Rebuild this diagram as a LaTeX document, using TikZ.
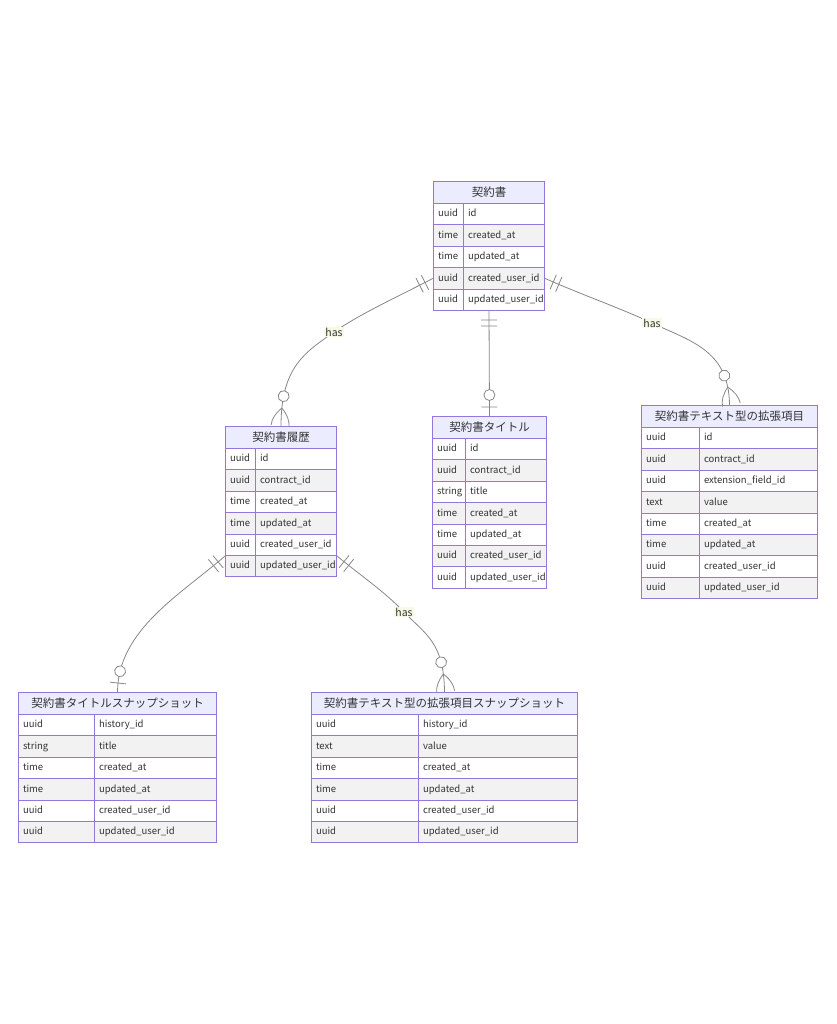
\documentclass[tikz,border=0pt]{standalone}
\usepackage{fontspec}
\setmainfont{Noto Sans CJK JP}
\usetikzlibrary{decorations.markings,calc}
\definecolor{ercol}{RGB}{150,118,220}
\definecolor{hdrfill}{RGB}{236,236,255}
\definecolor{cellgray}{RGB}{242,242,242}
\definecolor{relcol}{RGB}{135,135,135}
\definecolor{lblbg}{RGB}{245,250,228}
\definecolor{txt}{RGB}{51,51,51}
\newcommand\erbar{\draw[relcol,line width=0.8pt] (0,-8pt) -- (0,8pt);}
\newcommand\ercirc{\draw[relcol,line width=0.8pt,fill=white] (0,0) circle[radius=5.5pt];}
\newcommand\ercrow{\draw[relcol,line width=0.8pt] (0,0) .. controls (6pt,-6pt) and (12pt,-9pt) .. (18pt,-9pt) (0,0) .. controls (6pt,6pt) and (12pt,9pt) .. (18pt,9pt);}
\tikzset{
  er/.style={draw=ercol, line width=1pt, text=txt},
  hdr/.style={er, fill=hdrfill, minimum height=22pt, inner sep=0pt, anchor=north west, font=\fontsize{11.5}{13}\selectfont},
  cell/.style={er, minimum height=21.4pt, inner xsep=4.5pt, inner ysep=0pt, align=left, anchor=north west, font=\fontsize{9.5}{11}\selectfont, text height=7.5pt, text depth=2pt},
  rel/.style={draw=relcol, line width=0.8pt},
  lbl/.style={fill=lblbg, inner sep=1pt, text=txt, font=\fontsize{10.5}{12}\selectfont},
  onezm/.style={rel, postaction={decorate, decoration={markings,
      mark=at position 9pt with {\erbar}, mark=at position 15pt with {\erbar},
      mark=at position -30pt with {\ercirc}, mark=at position -18pt with {\ercrow}}}},
  onezo/.style={rel, postaction={decorate, decoration={markings,
      mark=at position 9pt with {\erbar}, mark=at position 15pt with {\erbar},
      mark=at position -21pt with {\ercirc}, mark=at position -9pt with {\erbar}}}}
}
% #1 name, #2 x, #3 top y, #4 type column width, #5 total width, #6 title, #7 rows
\newcommand\erent[7]{%
  \node[hdr, minimum width=#5pt] (#1) at (#2,#3) {#6};
  \foreach \ty/\nm [count=\i] in {#7}{%
    \pgfmathsetmacro\ry{#3+22+(\i-1)*21.4}%
    \pgfmathsetmacro\twa{#4-9}%
    \pgfmathsetmacro\twb{#5-#4-9}%
    \ifodd\i\relax\def\erfill{white}\else\def\erfill{cellgray}\fi
    \node[cell, fill=\erfill, text width=\twa pt] (#1-t\i) at (#2,\ry) {\ty};
    \node[cell, fill=\erfill, text width=\twb pt] (#1-n\i) at (#2+#4,\ry) {\nm};
  }%
}
\begin{document}
\begin{tikzpicture}[x=1pt,y=-1pt]
\useasboundingbox (0,0) rectangle (836,1024);
\fill[white] (0,0) rectangle (836,1024);

\erent{C}{433}{181}{30}{111}{契約書}{uuid/id, time/created\_at, time/updated\_at, uuid/created\_user\_id, uuid/updated\_user\_id}
\erent{H}{225}{426}{30}{111}{契約書履歴}{uuid/id, uuid/contract\_id, time/created\_at, time/updated\_at, uuid/created\_user\_id, uuid/updated\_user\_id}
\erent{T}{432}{416}{33}{114}{契約書タイトル}{uuid/id, uuid/contract\_id, string/title, time/created\_at, time/updated\_at, uuid/created\_user\_id, uuid/updated\_user\_id}
\erent{X}{641}{405}{58}{176}{契約書テキスト型の拡張項目}{uuid/id, uuid/contract\_id, uuid/extension\_field\_id, text/value, time/created\_at, time/updated\_at, uuid/created\_user\_id, uuid/updated\_user\_id}
\erent{S}{18}{692}{76}{198}{契約書タイトルスナップショット}{uuid/history\_id, string/title, time/created\_at, time/updated\_at, uuid/created\_user\_id, uuid/updated\_user\_id}
\erent{P}{311}{692}{107}{266}{契約書テキスト型の拡張項目スナップショット}{uuid/history\_id, text/value, time/created\_at, time/updated\_at, uuid/created\_user\_id, uuid/updated\_user\_id}

\draw[onezm] (C-t4.west) .. controls (395,298) and (360,314) .. (334,332) node[lbl]{has} .. controls (306,352) and (281,366) .. (H.north);
\draw[onezo] (C.north |- C-n5.south) -- (T.north);
\draw[onezm] (C-n4.east) .. controls (580,294) and (620,308) .. (652,323) node[lbl]{has} .. controls (690,341) and (729,350) .. (X.north);
\draw[onezo] (H-t5.south west) .. controls (180,595) and (118,630) .. (S.north);
\draw[onezm] (H-n5.south east) .. controls (360,575) and (385,592) .. (404,612) node[lbl]{has} .. controls (425,634) and (444,642) .. (P.north);
\end{tikzpicture}
\end{document}
